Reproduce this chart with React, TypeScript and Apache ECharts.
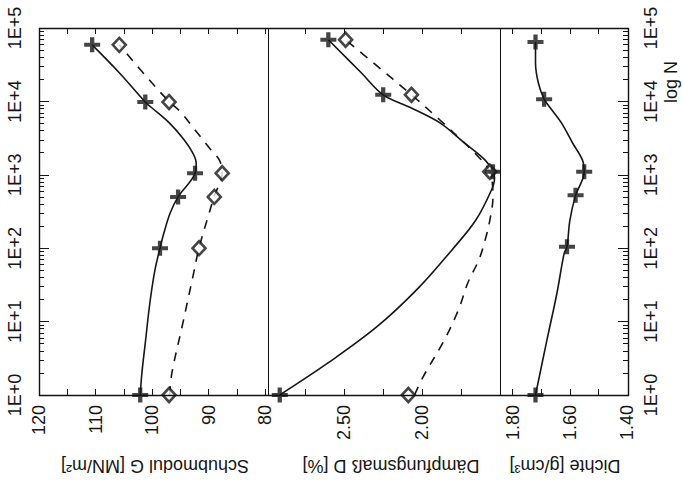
import React, { useEffect, useRef } from "react";
import * as echarts from "echarts";

// ---- tick labels ----
const decadeLabels = ["1E+0", "1E+1", "1E+2", "1E+3", "1E+4", "1E+5"];
const gLabelValues = [80, 90, 100, 110, 120];
const gTickValues = [80, 85, 90, 95, 100, 105, 110, 115];
const dLabelValues = [2.0, 2.5];
const dTickValues = [1.75, 2.0, 2.25, 2.5, 2.75];
const rLabelValues = [1.4, 1.6, 1.8];
const rTickValues = [1.5, 1.6, 1.7, 1.8];

// ---- measured points (N = load cycles) ----
const nG = [1, 100, 500, 1050, 9800, 58900];
const gPlus = [102.1, 98.6, 95.4, 92.4, 101.2, 110.6];
const gDiamond = [97.0, 91.7, 89.0, 87.6, 97.0, 105.8];

const nD = [1, 1100, 12300, 69200];
const dPlus = [2.91, 1.55, 2.25, 2.6];
const dDiamond = [2.09, 1.57, 2.07, 2.49];

const nR = [1, 105, 525, 1100, 10700, 64600];
const rPlus = [1.72, 1.61, 1.58, 1.55, 1.69, 1.72];

// ---- fitted curves: [log10 N, value] ----
const gSolidCurve = [
  [0, 102.1], [0.3, 101.8], [0.71, 101.2], [1.25, 100.4], [1.7, 99.5], [2.0, 98.6],
  [2.21, 97.9], [2.48, 96.8], [2.7, 95.4], [3.02, 92.4], [3.16, 92.2], [3.31, 92.9],
  [3.51, 94.7], [3.71, 97.0], [3.91, 100.0], [3.99, 101.2], [4.39, 105.8], [4.77, 110.6],
];
const gDashedCurve = [
  [0, 96.9], [0.3, 96.5], [0.93, 94.7], [1.25, 93.8], [1.57, 92.9], [2.0, 91.7],
  [2.48, 89.9], [2.71, 89.0], [3.02, 87.6], [3.2, 88.1], [3.37, 89.9], [3.61, 92.4],
  [3.86, 95.0], [4.0, 97.0], [4.25, 100.0], [4.77, 105.8],
];
const dSolidCurve = [
  [0, 2.91], [0.44, 2.6], [0.93, 2.29], [1.47, 2.02], [1.98, 1.81], [2.38, 1.66],
  [2.79, 1.56], [2.95, 1.54], [3.04, 1.55], [3.2, 1.6], [3.43, 1.73], [3.71, 1.89],
  [3.92, 2.08], [4.09, 2.25], [4.39, 2.39], [4.84, 2.6],
];
const dDashedCurve = [
  [0, 2.05], [0.23, 2.0], [0.75, 1.86], [1.16, 1.77], [1.53, 1.71], [1.84, 1.64],
  [2.11, 1.6], [2.38, 1.57], [2.7, 1.55], [3.04, 1.57], [3.24, 1.64], [3.51, 1.77],
  [3.75, 1.89], [4.09, 2.07], [4.52, 2.31], [4.84, 2.49],
];
const rSolidCurve = [
  [0, 1.72], [0.75, 1.68], [1.39, 1.645], [1.93, 1.62], [2.02, 1.61], [2.38, 1.6],
  [2.72, 1.58], [3.04, 1.55], [3.2, 1.556], [3.43, 1.59], [3.71, 1.63], [3.92, 1.67],
  [4.03, 1.69], [4.25, 1.71], [4.52, 1.72], [4.81, 1.72],
];

const FONT = '"Liberation Sans", Arial, sans-serif';
const INK = "#161616";
const FRAME = "#111111";
const CROSS = "path://M5.5,0H9.5V5.5H15V9.5H9.5V15H5.5V9.5H0V5.5H5.5Z";

// plot frame (pixels)
const FRAME_LEFT = 39;
const FRAME_TOP = 28;
const FRAME_HEIGHT = 367;
const PANEL_WIDTHS = [229, 232, 128];

const majorY = [0, 1, 2, 3, 4, 5];
const minorY: number[] = [];
for (let d = 0; d < 5; d++) for (let k = 2; k <= 9; k++) minorY.push(Math.log10(k) + d);

function xAxisPair(grid: number, min: number, max: number, ticks: number[], labels: number[], digits: number) {
  const common = {
    gridIndex: grid,
    type: "value",
    inverse: true,
    min,
    max,
    splitLine: { show: false },
    splitArea: { show: false },
  };
  return [
    {
      ...common,
      position: "bottom",
      axisLine: { show: false, onZero: false },
      axisTick: { show: true, inside: true, length: 6, customValues: ticks, lineStyle: { color: INK } },
      axisLabel: {
        show: true,
        rotate: 90,
        margin: 10,
        customValues: labels,
        formatter: (v: number) => v.toFixed(digits),
        fontSize: 18,
        fontFamily: FONT,
        color: INK,
      },
    },
    {
      ...common,
      position: "top",
      axisLine: { show: false, onZero: false },
      axisTick: { show: true, inside: true, length: 6, customValues: ticks, lineStyle: { color: INK } },
      axisLabel: { show: false },
    },
  ];
}

function yAxisBase(grid: number) {
  return {
    gridIndex: grid,
    type: "value",
    min: 0,
    max: 5,
    interval: 1,
    splitLine: { show: false },
    splitArea: { show: false },
  };
}

const toPts = (ns: number[], vs: number[]) => ns.map((n, i) => [vs[i], Math.log10(n)]);
const curve = (c: number[][]) => c.map((p) => [p[1], p[0]]);

export default function App() {
  const ref = useRef<HTMLDivElement>(null);
  useEffect(() => {
    if (!ref.current) return;
    const chart = echarts.init(ref.current, undefined, { renderer: "svg" });
    const lineSeries = (xi: number, yi: number, data: number[][], dashed: boolean) => ({
      type: "line",
      xAxisIndex: xi,
      yAxisIndex: yi,
      data,
      smooth: 0.35,
      showSymbol: false,
      symbol: "none",
      z: 2,
      lineStyle: { color: INK, width: 1.6, type: dashed ? [9, 8] : "solid" },
    });
    const plus = (xi: number, yi: number, data: number[][]) => ({
      type: "scatter",
      xAxisIndex: xi,
      yAxisIndex: yi,
      data,
      symbol: CROSS,
      symbolSize: [16, 15],
      z: 5,
      itemStyle: { color: INK },
    });
    const diamond = (xi: number, yi: number, data: number[][]) => ({
      type: "scatter",
      xAxisIndex: xi,
      yAxisIndex: yi,
      data,
      symbol: "diamond",
      symbolSize: [13, 14],
      z: 4,
      itemStyle: { color: "#ffffff", borderColor: INK, borderWidth: 2.6 },
    });
    const title = (text: string, x: number, y: number, rot: number) => ({
      type: "text",
      x,
      y,
      rotation: rot,
      style: {
        text,
        font: `18px ${FONT}`,
        fill: INK,
        align: "center",
        verticalAlign: "middle",
        textAlign: "center",
        textVerticalAlign: "middle",
      },
    });
    const yLabel = (margin: number) => ({
      show: true,
      rotate: 90,
      margin,
      formatter: (v: number) => decadeLabels[Math.round(v)],
      fontSize: 18,
      fontFamily: FONT,
      color: INK,
    });
    const plainY = (grid: number) => ({
      ...yAxisBase(grid),
      position: "left",
      axisLine: { show: false, onZero: false },
      axisTick: { show: false },
      axisLabel: { show: false },
    });
    let acc = FRAME_LEFT;
    const grids = PANEL_WIDTHS.map((w) => {
      const g = { left: acc, top: FRAME_TOP, width: w, height: FRAME_HEIGHT };
      acc += w;
      return g;
    });
    const right = acc;
    const bottom = FRAME_TOP + FRAME_HEIGHT;
    const seg = (x1: number, y1: number, x2: number, y2: number, w: number) => ({
      type: "line",
      z: 100,
      zlevel: 1,
      silent: true,
      shape: { x1, y1, x2, y2 },
      style: { stroke: FRAME, lineWidth: w, fill: "none" },
    });
    const frameLines: any[] = [
      seg(FRAME_LEFT, FRAME_TOP + 0.5, right + 1, FRAME_TOP + 0.5, 1.4),
      seg(FRAME_LEFT, bottom + 0.5, right + 1, bottom + 0.5, 1.4),
      seg(FRAME_LEFT + 0.5, FRAME_TOP, FRAME_LEFT + 0.5, bottom + 1, 1.4),
      seg(right + 0.5, FRAME_TOP, right + 0.5, bottom + 1, 1.4),
      seg(grids[1].left + 0.5, FRAME_TOP, grids[1].left + 0.5, bottom, 1),
      seg(grids[2].left + 0.5, FRAME_TOP, grids[2].left + 0.5, bottom, 1),
    ];

    chart.setOption({
      animation: false,
      backgroundColor: "#ffffff",
      grid: grids,
      xAxis: [
        ...xAxisPair(0, 79.5, 120, gTickValues, gLabelValues, 0),
        ...xAxisPair(1, 1.505, 2.985, dTickValues, dLabelValues, 2),
        ...xAxisPair(2, 1.397, 1.844, rTickValues, rLabelValues, 2),
      ],
      yAxis: [
        {
          ...yAxisBase(0),
          position: "left",
          axisLine: { show: false, onZero: false },
          axisTick: { show: true, inside: true, length: 10, customValues: majorY, lineStyle: { color: INK } },
          axisLabel: yLabel(15),
        },
        {
          ...yAxisBase(0),
          position: "left",
          axisLine: { show: false, onZero: false },
          axisTick: { show: true, inside: true, length: 5, customValues: minorY, lineStyle: { color: INK } },
          axisLabel: { show: false },
        },
        plainY(1),
        plainY(2),
        {
          ...yAxisBase(2),
          position: "right",
          axisLine: { show: false, onZero: false },
          axisTick: { show: true, inside: true, length: 10, customValues: majorY, lineStyle: { color: INK } },
          axisLabel: yLabel(14),
        },
        {
          ...yAxisBase(2),
          position: "right",
          axisLine: { show: false, onZero: false },
          axisTick: { show: true, inside: true, length: 5, customValues: minorY, lineStyle: { color: INK } },
          axisLabel: { show: false },
        },
      ],
      series: [
        lineSeries(0, 0, curve(gSolidCurve), false),
        lineSeries(0, 0, curve(gDashedCurve), true),
        diamond(0, 0, toPts(nG, gDiamond)),
        plus(0, 0, toPts(nG, gPlus)),
        lineSeries(2, 2, curve(dSolidCurve), false),
        lineSeries(2, 2, curve(dDashedCurve), true),
        diamond(2, 2, toPts(nD, dDiamond)),
        plus(2, 2, toPts(nD, dPlus)),
        lineSeries(4, 3, curve(rSolidCurve), false),
        plus(4, 3, toPts(nR, rPlus)),
      ],
      graphic: [
        ...frameLines,
        title("Schubmodul G [MN/m²]", 155, 466, Math.PI),
        title("Dämpfungsmaß D [%]", 391, 466, Math.PI),
        title("Dichte [g/cm³]", 565, 466, Math.PI),
        title("log N", 671, 82, Math.PI / 2),
      ],
    });
    return () => chart.dispose();
  }, []);
  return <div ref={ref} style={{ position: "fixed", left: 0, top: 0, width: 683, height: 492 }} />;
}
